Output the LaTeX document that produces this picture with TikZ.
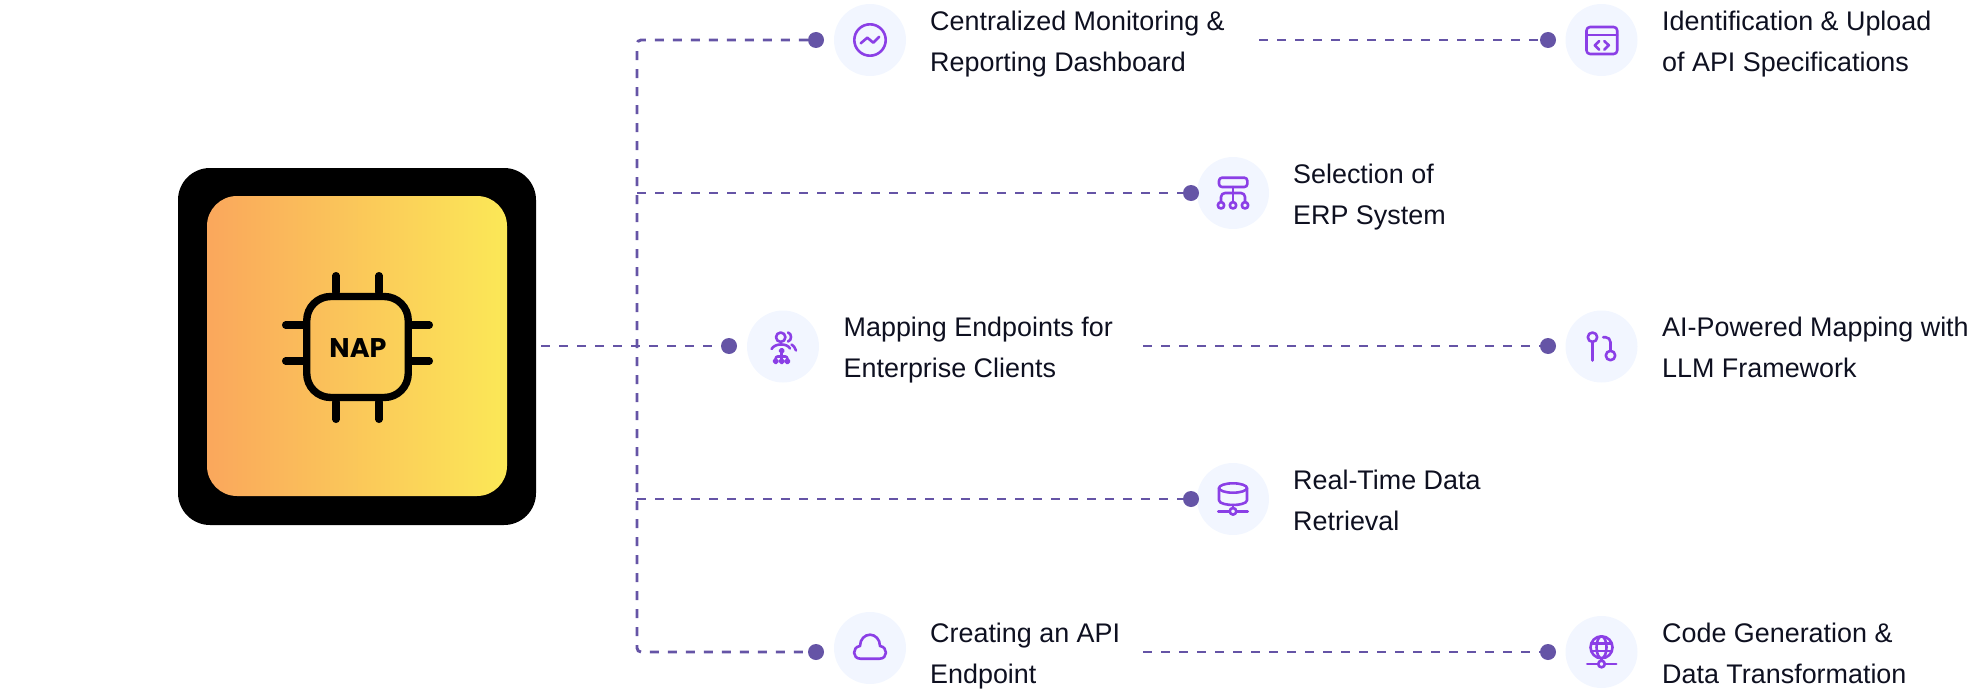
\documentclass[tikz,border=0pt]{standalone}
\usepackage{fontspec}
\setmainfont{Liberation Sans}
\newfontfamily\napfont{Poppins}
\definecolor{dashc}{HTML}{6554A6}
\definecolor{iconc}{HTML}{8B3FE6}
\definecolor{halo}{HTML}{F2F6FF}
\definecolor{inkc}{HTML}{0E1020}
\definecolor{gradl}{HTML}{FAA75C}
\definecolor{gradr}{HTML}{FBE857}
\tikzset{
  dashline/.style={draw=dashc,line width=2.9pt,dash pattern=on 9pt off 9pt},
  dotn/.style={circle,fill=dashc,minimum size=16pt,inner sep=0pt},
  halon/.style={circle,fill=halo,minimum size=72pt,inner sep=0pt},
  lbl/.style={anchor=west,inner sep=0pt,align=left,text=inkc,font=\fontsize{26.9}{40.4}\selectfont},
  iconl/.style={draw=iconc,line width=2.6pt,line cap=round,line join=round,fill=none},
  pin/.style={line width=7.4pt,line cap=round,draw=black}
}
\begin{document}
\begin{tikzpicture}[x=1pt,y=-1pt]
\useasboundingbox (0,0) rectangle (1980,693);
\node (outerbox) [fill=black,rounded corners=32pt,minimum width=358pt,minimum height=357pt,inner sep=0pt] at (357,346.5) {};
\node (innerbox) [left color=gradl,right color=gradr,rounded corners=30pt,minimum size=300pt,inner sep=0pt] at (357,346) {};
% chip
\node (chip) [draw=black,line width=7.4pt,rounded corners=24pt,minimum width=101.5pt,minimum height=101pt,inner sep=0pt] at (357.5,347) {};
\foreach \xx in {336,379}{
  \draw[pin] (\xx,275.7) -- (\xx,292);
  \draw[pin] (\xx,402) -- (\xx,419.3);
}
\foreach \yy in {325,361}{
  \draw[pin] (285.7,\yy) -- (303,\yy);
  \draw[pin] (412,\yy) -- (429.3,\yy);
}
\node (nap) at (358,348) {\napfont\bfseries\fontsize{27}{30}\selectfont NAP};
% halos
\node[halon] (h1) at (870,40) {};
\node[halon] (h2) at (1233,193) {};
\node[halon] (h3) at (783,346.5) {};
\node[halon] (h4) at (1233,499) {};
\node[halon] (h5) at (870,648) {};
\node[halon] (r1) at (1601.5,40) {};
\node[halon] (r3) at (1601.5,346.5) {};
\node[halon] (r5) at (1601.5,652) {};
% dots
\node[dotn] (d1) at (816,40) {};
\node[dotn] (d2) at (1191,193) {};
\node[dotn] (d3) at (729,346) {};
\node[dotn] (d4) at (1191,499) {};
\node[dotn] (d5) at (816,652) {};
\node[dotn] (e1) at (1548,40) {};
\node[dotn] (e3) at (1548,346) {};
\node[dotn] (e5) at (1548,652) {};
% connector anchors
\coordinate (c1) at (637,40);
\coordinate (j2) at (637,193);
\coordinate (j4) at (637,499);
\coordinate (c5) at (637,652);
\coordinate (s3) at (541,346);
\coordinate (s1) at (1259,40);
\coordinate (s5) at (1143,652);
\coordinate (t3) at (1143,346);
% connectors
\draw[dashline,rounded corners=4pt] (d1) -- (c1) -- (c5) -- (d5);
\draw[dashline] (j2) -- (d2);
\draw[dashline] (j4) -- (d4);
\draw[dashline] (s3) -- (d3);
\draw[dashline] (s1) -- (e1);
\draw[dashline] (t3) -- (e3);
\draw[dashline] (s5) -- (e5);
% labels
\node[lbl] (l1) at (930,47.3) {Centralized Monitoring \&\\Reporting Dashboard\strut};
\node[lbl] (l2) at (1293,200.3) {Selection of\\ERP System\strut};
\node[lbl] (l3) at (843.5,353.3) {Mapping Endpoints for\\Enterprise Clients\strut};
\node[lbl] (l4) at (1293,506.3) {Real-Time Data\\Retrieval\strut};
\node[lbl] (l5) at (930,659.3) {Creating an API\\Endpoint\strut};
\node[lbl] (m1) at (1662,47.3) {Identification \& Upload\\of API Specifications\strut};
\node[lbl] (m3) at (1662,353.3) {AI-Powered Mapping with\\LLM Framework\strut};
\node[lbl] (m5) at (1662,659.3) {Code Generation \&\\Data Transformation\strut};
% icon: pulse
\begin{scope}[shift={(h1)}]
  \draw[iconl] (0,0) circle (15.7);
  \draw[iconl] (-9.3,3.3) -- (-2.7,-2.3) -- (3.3,2.7) -- (9.3,-3.3);
\end{scope}
% icon: org chart
\begin{scope}[shift={(h2)}]
  \draw[iconl,rounded corners=3pt] (-14,-15.3) rectangle (14.3,-6);
  \draw[iconl] (0,-6) -- (0,9);
  \draw[iconl,rounded corners=4pt] (-12,9) -- (-12,0) -- (12,0) -- (12,9);
  \foreach \xx in {-12,0,12}{\draw[iconl] (\xx,12.3) circle (3.2);}
\end{scope}
% icon: users
\begin{scope}[shift={(h3)}]
  \draw[iconl] (-2.3,-9.3) circle (4.7);
  \draw[iconl] (5,-14) .. controls (9,-13) and (9,-6) .. (5,-5);
  \draw[iconl] (-11.5,2.5) .. controls (-8,-3.5) and (4,-3.5) .. (7,2);
  \draw[iconl] (8.5,-2) .. controls (10.5,-1) and (12,1) .. (13,4);
  \draw[iconl] (-1.3,4.3) circle (1.8);
  \draw[iconl] (-1.3,6) -- (-1.3,12.8);
  \draw[iconl,rounded corners=2pt] (-7.3,12.8) -- (-7.3,10) -- (4.3,10) -- (4.3,12.8);
  \foreach \xx in {-7.3,-1.3,4.3}{\draw[iconl] (\xx,14.7) circle (1.9);}
\end{scope}
% icon: database
\begin{scope}[shift={(h4)}]
  \draw[iconl] (0,-11) ellipse (14 and 4.7);
  \draw[iconl] (-14,-11) -- (-14,1.3) .. controls (-14,4.5) and (-6,6) .. (0,6) .. controls (6,6) and (14,4.5) .. (14,1.3) -- (14,-11);
  \draw[iconl] (0,6) -- (0,9);
  \draw[iconl] (0,12.3) circle (3.3);
  \draw[iconl] (-14.7,12.3) -- (-3.3,12.3);
  \draw[iconl] (3.3,12.3) -- (14.7,12.3);
\end{scope}
% icon: cloud
\begin{scope}[shift={(h5)}]
  \draw[iconl] (-9.5,10.7) .. controls (-18,10.7) and (-18,-1) .. (-10,-2) .. controls (-10,-9) and (-5,-13.3) .. (0,-13.3) .. controls (5,-13.3) and (10,-9) .. (10,-2) .. controls (18,-1) and (18,10.7) .. (9.5,10.7) -- cycle;
\end{scope}
% icon: code window
\begin{scope}[shift={(r1)}]
  \draw[iconl,rounded corners=3.5pt] (-15,-13) rectangle (15.7,14);
  \draw[iconl] (-15,-5) -- (15.7,-5);
  \draw[iconl] (-2.3,1) -- (-6.7,5.3) -- (-2.3,9.7);
  \draw[iconl] (2.7,1) -- (7.3,5.3) -- (2.7,9.7);
\end{scope}
% icon: git
\begin{scope}[shift={(r3)}]
  \draw[iconl] (-9,-9.3) circle (4.7);
  \draw[iconl] (-9,-4.6) -- (-9,14);
  \draw[iconl] (9,9) circle (4.7);
  \draw[iconl,rounded corners=5pt] (9,4.3) -- (9,-9.3) -- (1.7,-9.3);
\end{scope}
% icon: globe
\begin{scope}[shift={(r5)}]
  \draw[iconl] (0,-4.7) circle (11);
  \draw[iconl] (0,-4.7) ellipse (5 and 11);
  \draw[iconl] (-9.7,-8.5) -- (9.7,-8.5);
  \draw[iconl] (-9.7,-1) -- (9.7,-1);
  \draw[iconl] (0,6.3) -- (0,8.7);
  \draw[iconl] (0,12) circle (3.3);
  \draw[iconl] (-14.3,12) -- (-3.3,12);
  \draw[iconl] (3.3,12) -- (14.7,12);
\end{scope}
\end{tikzpicture}
\end{document}
